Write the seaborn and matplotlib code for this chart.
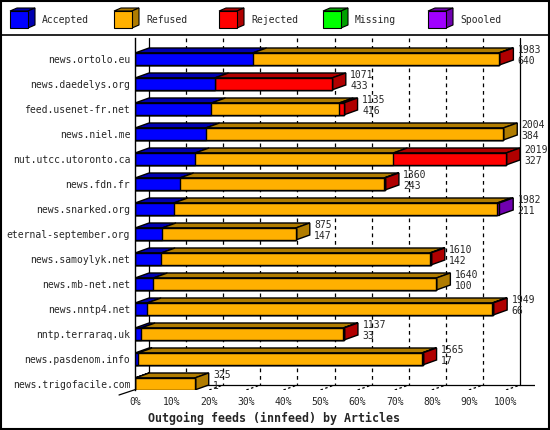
import numpy as np
import pandas as pd
import matplotlib.pyplot as plt
from matplotlib.patches import Polygon, Rectangle
import seaborn as sns

hosts = [
    "news.ortolo.eu", "news.daedelys.org", "feed.usenet-fr.net", "news.niel.me",
    "nut.utcc.utoronto.ca", "news.fdn.fr", "news.snarked.org", "eternal-september.org",
    "news.samoylyk.net", "news.mb-net.net", "news.nntp4.net", "nntp.terraraq.uk",
    "news.pasdenom.info", "news.trigofacile.com",
]
offered = [1983, 1071, 1135, 2004, 2019, 1360, 1982, 875, 1610, 1640, 1949, 1137, 1565, 325]
accepted = [640, 433, 416, 384, 327, 243, 211, 147, 142, 100, 66, 33, 17, 1]
refused = [1339, 0, 695, 1620, 1079, 1112, 1760, 728, 1462, 1540, 1878, 1100, 1544, 324]
rejected = [4, 638, 24, 0, 613, 5, 0, 0, 6, 0, 5, 4, 4, 0]
missing = [0] * 14
spooled = [0, 0, 0, 0, 0, 0, 11, 0, 0, 0, 0, 0, 0, 0]

series = ["Accepted", "Refused", "Rejected", "Missing", "Spooled"]
colors = ["#0000ff", "#ffb000", "#ff0000", "#00ff00", "#a000ff"]
darks = ["#0000b0", "#b07c00", "#b00000", "#00a000", "#7000b0"]

df = pd.DataFrame({"host": hosts, "Accepted": accepted, "Refused": refused,
                   "Rejected": rejected, "Missing": missing, "Spooled": spooled})
top = max(offered)
cum = df[series].cumsum(axis=1) / top * 100
pct = df[series] / top * 100

# 3d geometry (px -> data)
DX = 14 / 3.71
DY = 0.2
BAR_H = 0.48
Y_BOT = 13 + BAR_H / 2
Y_TOP = Y_BOT - 352 / 25
FLOOR = Y_BOT - DY
XMAX = 400 / 3.71

sns.set_theme(style="white")
plt.rcParams["font.family"] = ["DejaVu Sans Mono"]

fig = plt.figure(figsize=(5.5, 4.3), dpi=100)

# frame + legend layer
bg = fig.add_axes([0, 0, 1, 1], zorder=-1)
bg.set_xlim(0, 550)
bg.set_ylim(430, 0)
bg.axis("off")
bg.add_patch(Rectangle((0.8, 0.8), 548.4, 428.4, fill=False, ec="black", lw=1.5))
bg.plot([0, 550], [35, 35], color="black", lw=1.2)
for k, (name, c, d) in enumerate(zip(series, colors, darks)):
    x0 = [10, 114, 219, 323, 428][k]
    bg.add_patch(Polygon([(x0, 11), (x0 + 18, 11), (x0 + 25, 8), (x0 + 7, 8)], fc=d, ec="black", lw=0.8))
    bg.add_patch(Polygon([(x0 + 18, 11), (x0 + 25, 8), (x0 + 25, 25), (x0 + 18, 28)], fc=d, ec="black", lw=0.8))
    bg.add_patch(Rectangle((x0, 11), 18, 17, fc=c, ec="black", lw=0.8))
    bg.text(x0 + 32, 20, name, fontsize=7, va="center", ha="left")

ax = fig.add_axes([135 / 550, 1 - 390 / 430, 400 / 550, 352 / 430])

# back wall grid
for v in range(0, 101, 10):
    ls = "-" if v in (0, 100) else (0, (3, 3))
    ax.plot([v + DX, v + DX], [Y_TOP, FLOOR], color="black", lw=0.9, ls=ls, zorder=0.5)
    if v > 0:
        ax.plot([v, v + DX], [Y_BOT, FLOOR], color="black", lw=0.9, ls=(0, (2, 2)), zorder=0.5)
ax.plot([0, XMAX], [FLOOR, FLOOR], color="black", lw=0.9, zorder=0.5)
ax.plot([-16 / 3.71, DX], [Y_BOT + DY, FLOOR], color="black", lw=0.9, zorder=0.5, clip_on=False)

# front faces, stacked
for s, c in reversed(list(zip(series, colors))):
    sns.barplot(x=cum[s], y=df["host"], orient="h", color=c, saturation=1,
                width=BAR_H, edgecolor="black", linewidth=1, ax=ax, zorder=2)

# top and side faces
for i in range(len(hosts)):
    yt = i - BAR_H / 2
    yb = i + BAR_H / 2
    last = 0
    for j, s in enumerate(series):
        if pct.loc[i, s] <= 0:
            continue
        x1 = cum.loc[i, s]
        x0 = x1 - pct.loc[i, s]
        ax.add_patch(Polygon([(x0, yt), (x1, yt), (x1 + DX, yt - DY), (x0 + DX, yt - DY)],
                             fc=darks[j], ec="black", lw=1, zorder=1.5))
        last = j
    xe = cum.loc[i, "Spooled"]
    ax.add_patch(Polygon([(xe, yt), (xe + DX, yt - DY), (xe + DX, yb - DY), (xe, yb)],
                         fc=darks[last], ec="black", lw=1, zorder=1.5))
    ax.text(xe + DX + 1.2, yt - 0.12, str(offered[i]), fontsize=7, va="center", zorder=3)
    ax.text(xe + DX + 1.2, yt + 0.32, str(accepted[i]), fontsize=7, va="center", zorder=3)

ax.set_xlim(0, XMAX)
ax.set_ylim(Y_BOT, Y_TOP)
ax.set_xticks(range(0, 101, 10))
ax.set_xticklabels([f"{v}%" for v in range(0, 101, 10)], fontsize=7)
ax.tick_params(axis="x", length=0, pad=5)
ax.tick_params(axis="y", length=0, pad=3.5, labelsize=7)
ax.set_ylabel("")
ax.set_xlabel("Outgoing feeds (innfeed) by Articles", fontsize=8.4, fontweight="bold")
ax.xaxis.set_label_coords(139 / 400, -22 / 352)
ax.patch.set_alpha(0)
for side in ["top", "right", "bottom"]:
    ax.spines[side].set_visible(False)
ax.spines["left"].set_color("black")
ax.spines["left"].set_linewidth(1)

fig.savefig("out.png", dpi=100)
